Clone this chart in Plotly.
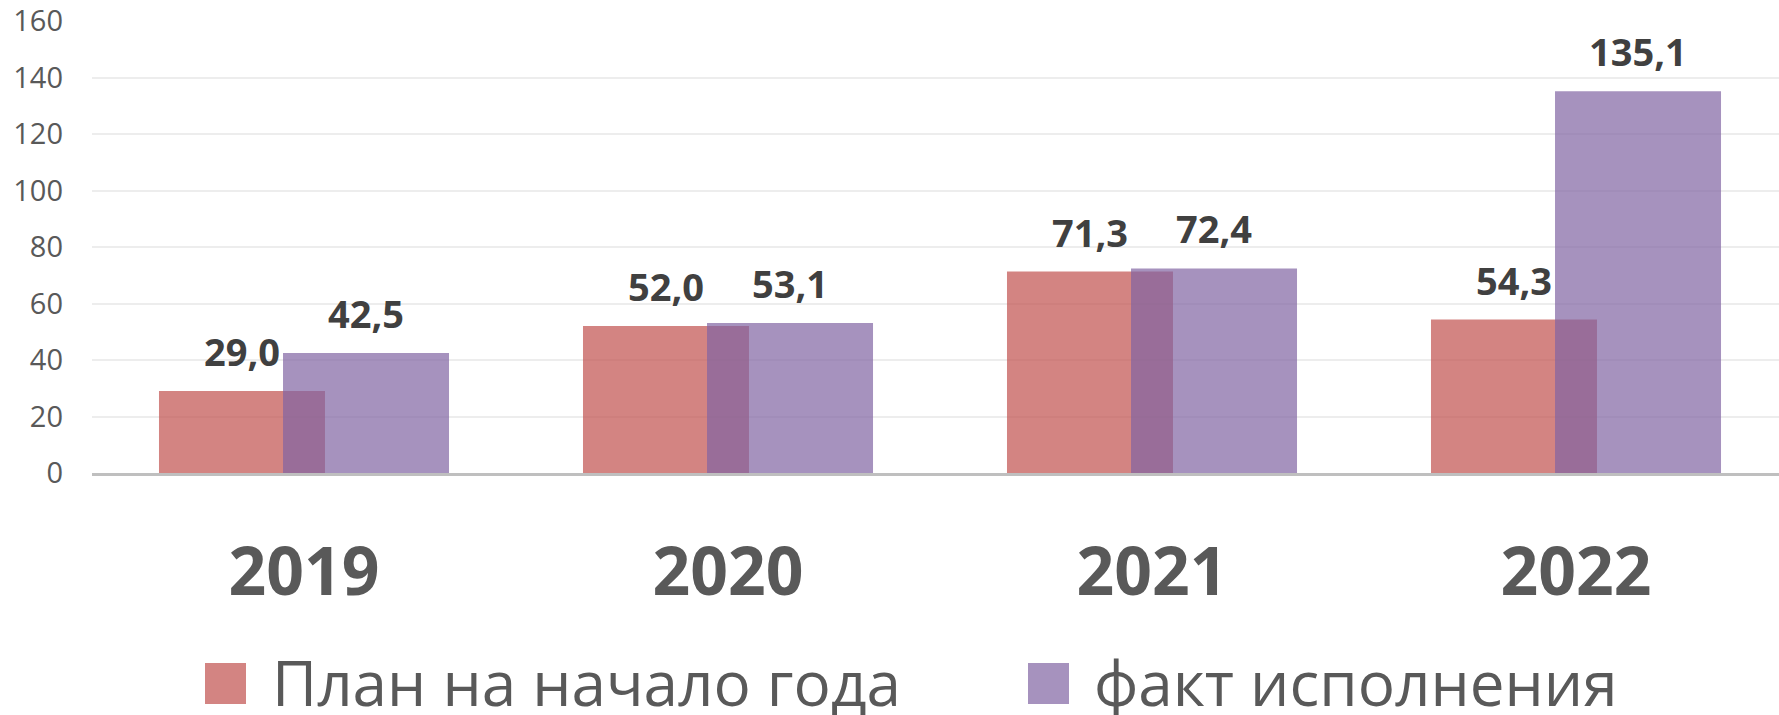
import plotly.graph_objects as go

# ---- data ----
years = ["2019", "2020", "2021", "2022"]
plan_values = [29.0, 52.0, 71.3, 54.3]
fact_values = [42.5, 53.1, 72.4, 135.1]
plan_name = "План на начало года"
fact_name = "факт исполнения"
y_ticks = [0, 20, 40, 60, 80, 100, 120, 140, 160]

# ---- style ----
W, H = 1779, 715
L, R, T, B = 92, 0, 21, 242
plot_w = W - L - R
plot_h = H - T - B
bar_w = 0.3915
plan_off = -0.342
fact_off = -0.0495
plan_color = "rgba(192,80,77,0.7)"
fact_color = "rgba(128,100,162,0.7)"
font_fam = "Open Sans"
text_col = "#595959"
label_col = "#404040"

xs = list(range(len(years)))

fig = go.Figure()
fig.add_trace(go.Bar(x=xs, y=plan_values, name=plan_name, width=bar_w, offset=plan_off,
                     marker=dict(color=plan_color, line=dict(width=0)), showlegend=False))
fig.add_trace(go.Bar(x=xs, y=fact_values, name=fact_name, width=bar_w, offset=fact_off,
                     marker=dict(color=fact_color, line=dict(width=0)), showlegend=False))

annotations = []
def fmt(v):
    return f"{v:.1f}".replace(".", ",")

for i, v in enumerate(plan_values):
    annotations.append(dict(x=i + plan_off + bar_w / 2, y=v, xref="x", yref="y", text=fmt(v),
                            showarrow=False, yanchor="bottom", xanchor="center", yshift=12,
                            font=dict(family=font_fam, size=38, color=label_col, weight="bold")))
for i, v in enumerate(fact_values):
    annotations.append(dict(x=i + fact_off + bar_w / 2, y=v, xref="x", yref="y", text=fmt(v),
                            showarrow=False, yanchor="bottom", xanchor="center", yshift=12,
                            font=dict(family=font_fam, size=38, color=label_col, weight="bold")))

def px_x(p):
    return (p - L) / plot_w

def px_y(p):
    return (H - B - p) / plot_h

# manual legend
shapes = []
legend_items = [(plan_name, "rgba(192,80,77,0.7)", 205, 270), (fact_name, "rgba(128,100,162,0.7)", 1028, 1092)]
for name, col, sx, tx in legend_items:
    shapes.append(dict(type="rect", xref="paper", yref="paper",
                       x0=px_x(sx), x1=px_x(sx + 41), y0=px_y(704), y1=px_y(663),
                       fillcolor=col, line=dict(width=0)))
    annotations.append(dict(x=px_x(tx), y=px_y(682), xref="paper", yref="paper", text=name,
                            showarrow=False, xanchor="left", yanchor="middle",
                            font=dict(family=font_fam, size=62, color=text_col)))

fig.update_layout(
    width=W, height=H,
    margin=dict(l=L, r=R, t=T, b=B, pad=0),
    plot_bgcolor="white", paper_bgcolor="white",
    barmode="overlay",
    annotations=annotations,
    shapes=shapes,
    xaxis=dict(range=[-0.5, (plot_w / 424) - 0.5], tickmode="array", tickvals=xs, ticktext=years,
               showgrid=False, zeroline=False, showline=True, linecolor="#BFBFBF", linewidth=2.5,
               ticks="", ticklabelstandoff=40,
               tickfont=dict(family=font_fam, size=66, color=text_col, weight="bold")),
    yaxis=dict(range=[0, 160], tickmode="array", tickvals=y_ticks, showgrid=True,
               gridcolor="#EDEDED", gridwidth=1.5, zeroline=False, showline=False,
               ticks="", ticklabelstandoff=28,
               tickfont=dict(family=font_fam, size=29, color=text_col)),
)

fig.write_html("out.html", config={"displayModeBar": False},
               post_script="document.body.style.margin='0';document.body.style.overflow='hidden';")
